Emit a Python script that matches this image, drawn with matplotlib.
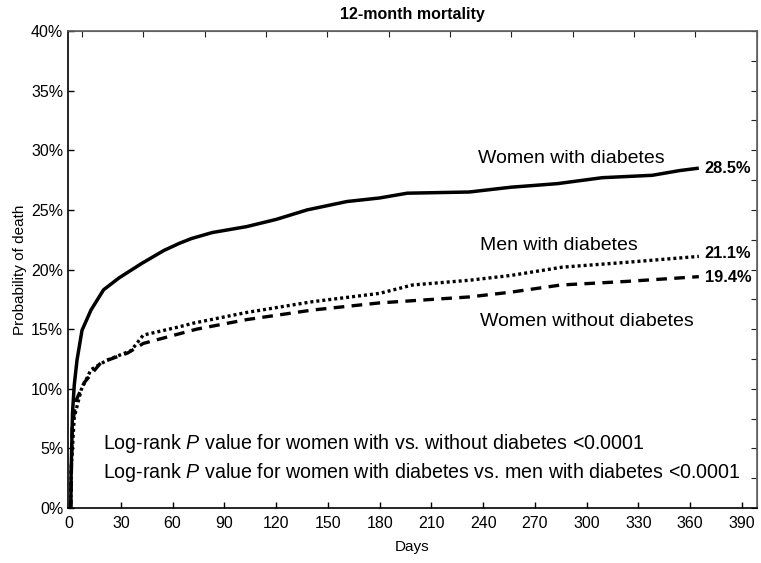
import numpy as np
import matplotlib
matplotlib.use("Agg")
import matplotlib.pyplot as plt

plt.rcParams['font.family'] = ['Liberation Sans', 'DejaVu Sans']
plt.rcParams['mathtext.fontset'] = 'custom'
plt.rcParams['mathtext.rm'] = 'Liberation Sans'
plt.rcParams['mathtext.it'] = 'Liberation Sans:italic'

# ---- data ----
women_dm_days = [0, 1, 1.2, 2, 3, 4.6, 7.5, 12.7, 20, 29, 42, 55, 64, 71, 83, 103, 120, 138,
                 161, 180, 196, 232, 244, 256, 283, 309, 338, 354, 365]
women_dm_pct = [0, 0, 3, 8, 10.3, 12.4, 14.9, 16.6, 18.3, 19.3, 20.5, 21.6, 22.2, 22.6, 23.1,
                23.6, 24.2, 25.0, 25.7, 26.0, 26.4, 26.5, 26.7, 26.9, 27.2, 27.7, 27.9, 28.3, 28.5]

men_dm_days = [0, 1, 1.2, 3, 7, 12.7, 22, 36, 43, 64, 72, 103, 141, 180, 199, 232, 256, 286, 323, 365]
men_dm_pct = [0, 0, 3.2, 7.6, 9.9, 11.6, 12.4, 13.2, 14.5, 15.2, 15.5, 16.4, 17.3, 18.0, 18.7,
              19.1, 19.5, 20.2, 20.6, 21.1]

women_nodm_days = [0, 1, 1.8, 4, 8.7, 18.5, 34, 43, 74, 103, 141, 180, 232, 256, 285, 323, 365]
women_nodm_pct = [0, 0, 6.8, 9.0, 10.5, 12.2, 13.0, 13.8, 15.0, 15.8, 16.6, 17.2, 17.7, 18.1,
                  18.7, 19.0, 19.4]

series_names = ["Women with diabetes", "Men with diabetes", "Women without diabetes"]
final_labels = ["28.5%", "21.1%", "19.4%"]
x_ticks = list(range(0, 391, 30))
y_ticks = list(range(0, 41, 5))

fig = plt.figure(figsize=(7.61, 5.63), dpi=100)
ax = fig.add_axes([0.0894, 0.0977, 0.9053, 0.8472])

ax.plot(women_dm_days, women_dm_pct, color='black', lw=2.5, solid_capstyle='butt')
ax.plot(men_dm_days, men_dm_pct, color='black', lw=2.4, linestyle=(0, (0.9, 0.9)))
ax.plot(women_nodm_days, women_nodm_pct, color='black', lw=2.4, linestyle=(0, (3.2, 2.2)))

ax.set_xlim(-0.6, 398.7)
ax.set_ylim(0, 40)
ax.set_xticks(x_ticks)
ax.set_yticks(y_ticks)
ax.set_yticklabels([f"{v}%" for v in y_ticks])
ax.tick_params(direction='in', length=4, labelsize=11.5, width=1)
ax.tick_params(axis='x', pad=6)

for s in ['top', 'right']:
    ax.spines[s].set_color('#606060')
for s in ['left', 'bottom']:
    ax.spines[s].set_color('black')
for s in ax.spines.values():
    s.set_linewidth(1.2)

# top ticks (monthly) and right ticks (2.5%)
top = ax.secondary_xaxis('top', functions=(lambda d: (d + 28.1) / 35.56, lambda m: m * 35.56 - 28.1))
top.set_xticks(range(1, 13))
top.set_xticklabels([])
top.tick_params(direction='in', length=4, colors='#202020')
top.spines['top'].set_color('#606060')
right = ax.secondary_yaxis('right')
right.set_yticks(np.arange(0, 40.1, 2.5))
right.set_yticklabels([])
right.tick_params(direction='in', length=4, colors='#202020')
right.spines['right'].set_color('#606060')

ax.set_title("12-month mortality", fontsize=11.5, fontweight='bold', pad=9)
ax.set_xlabel("Days", fontsize=11, labelpad=6)
ax.set_ylabel("Probability of death", fontsize=11, labelpad=3)

ax.text(237, 29.35, series_names[0], fontsize=14, va='center')
ax.text(238, 22.05, series_names[1], fontsize=14, va='center')
ax.text(238, 15.6, series_names[2], fontsize=14, va='center')

ax.text(368.5, women_dm_pct[-1], final_labels[0], fontsize=11.8, fontweight='bold', va='center')
ax.text(368.5, men_dm_pct[-1] + 0.25, final_labels[1], fontsize=11.8, fontweight='bold', va='center')
ax.text(368.5, women_nodm_pct[-1] - 0.1, final_labels[2], fontsize=11.8, fontweight='bold', va='center')

ax.text(19.7, 5.45, "Log-rank $P$ value for women with vs. without diabetes <0.0001", fontsize=14.1, va='center')
ax.text(19.7, 3.0, "Log-rank $P$ value for women with diabetes vs. men with diabetes <0.0001", fontsize=14.1, va='center')

fig.savefig("out.png", dpi=100)
